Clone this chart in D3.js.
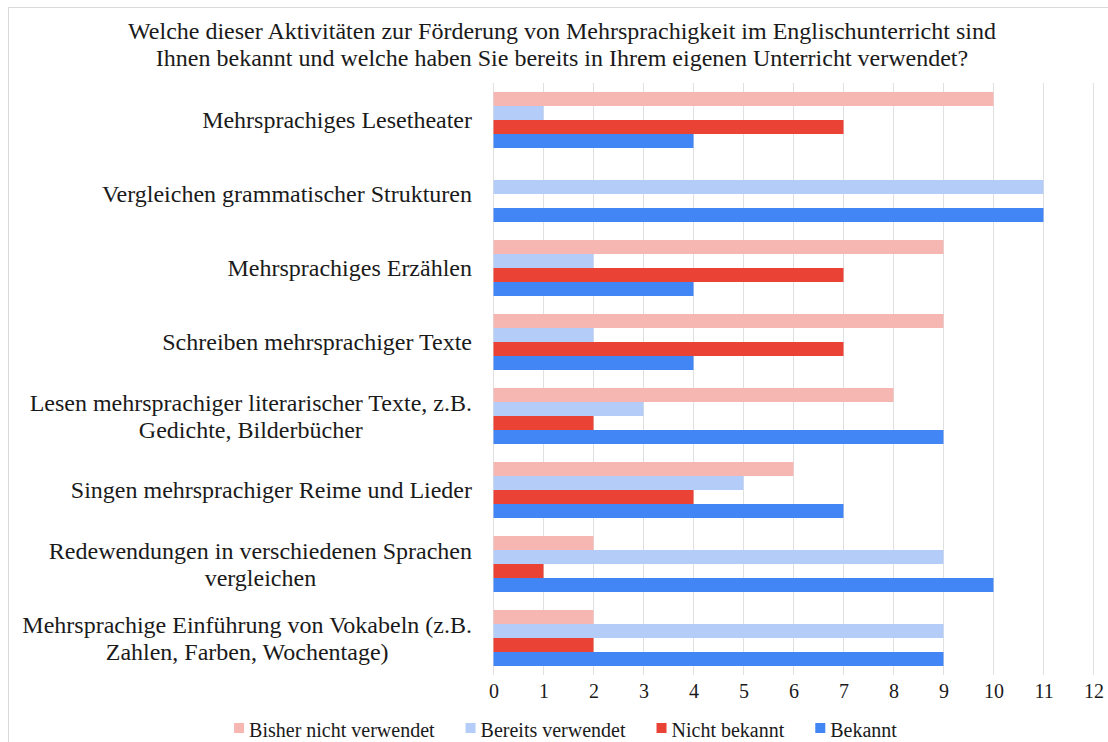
<!DOCTYPE html>
<html>
<head>
<meta charset="utf-8">
<script src="https://cdn.jsdelivr.net/npm/d3@7"></script>
<style>
  body { margin: 0; background: #fff; }
  text { font-family: "Liberation Serif", "Times New Roman", serif; fill: #1a1a1a; }
</style>
</head>
<body>
<div id="chart"></div>
<script>
var width = 1108;
var height = 742;

var titleLines = [
  "Welche dieser Aktivitäten zur Förderung von Mehrsprachigkeit im Englischunterricht sind",
  "Ihnen bekannt und welche haben Sie bereits in Ihrem eigenen Unterricht verwendet?"
];

var categories = [
  "Mehrsprachiges Lesetheater",
  "Vergleichen grammatischer Strukturen",
  "Mehrsprachiges Erzählen",
  "Schreiben mehrsprachiger Texte",
  "Lesen mehrsprachiger literarischer Texte, z.B.\nGedichte, Bilderbücher",
  "Singen mehrsprachiger Reime und Lieder",
  "Redewendungen in verschiedenen Sprachen\nvergleichen",
  "Mehrsprachige Einführung von Vokabeln (z.B.\nZahlen, Farben, Wochentage)"
];

var seriesNames = ["Bisher nicht verwendet", "Bereits verwendet", "Nicht bekannt", "Bekannt"];
var seriesColors = ["#f6b6b2", "#b4cdf8", "#ea4335", "#4285f4"];

var bisherNichtVerwendet = [10, 0, 9, 9, 8, 6, 2, 2];
var bereitsVerwendet = [1, 11, 2, 2, 3, 5, 9, 9];
var nichtBekannt = [7, 0, 7, 7, 2, 4, 1, 2];
var bekannt = [4, 11, 4, 4, 9, 7, 10, 9];

var xTicks = [0, 1, 2, 3, 4, 5, 6, 7, 8, 9, 10, 11, 12];

var seriesValues = [bisherNichtVerwendet, bereitsVerwendet, nichtBekannt, bekannt];

var svg = d3.select("#chart").append("svg")
  .attr("width", width)
  .attr("height", height);

// frame
svg.append("rect")
  .attr("x", 8.5).attr("y", 7.5)
  .attr("width", 1110).attr("height", 760)
  .attr("fill", "none")
  .attr("stroke", "#d9d9d9");

/* Scales */
var xScale = d3.scaleLinear().domain([0, 12]).range([493.5, 1093.5]);
var yScale = d3.scaleBand().domain(categories).range([83, 675]);
var ySub = d3.scaleBand().domain(seriesNames).range([9, yScale.bandwidth() - 9]);

/* Title */
svg.append("g").selectAll("text")
  .data(titleLines)
  .enter().append("text")
  .attr("x", 562)
  .attr("y", (d, i) => 39 + i * 27)
  .attr("text-anchor", "middle")
  .style("font-size", "24px")
  .text(d => d);

/* Gridlines */
svg.append("g").selectAll("line")
  .data(xTicks)
  .enter().append("line")
  .attr("x1", d => xScale(d)).attr("x2", d => xScale(d))
  .attr("y1", 83).attr("y2", 675)
  .attr("stroke", "#e0e0e0")
  .attr("stroke-width", 1);

/* Bars */
var rows = categories.map((c, i) => ({
  cat: c,
  values: seriesNames.map((s, j) => ({ name: s, value: seriesValues[j][i], color: seriesColors[j] }))
}));

var groups = svg.append("g").selectAll(".group")
  .data(rows)
  .enter().append("g")
  .attr("class", "group")
  .attr("transform", d => `translate(0, ${yScale(d.cat)})`);

groups.selectAll("rect")
  .data(d => d.values)
  .enter().append("rect")
  .attr("x", xScale(0))
  .attr("y", d => ySub(d.name))
  .attr("width", d => xScale(d.value) - xScale(0))
  .attr("height", ySub.bandwidth())
  .attr("fill", d => d.color);

/* Category labels, block right-aligned, lines centered */
var labelRight = 472;
categories.forEach(function(c) {
  var lines = c.split("\n");
  var cy = yScale(c) + yScale.bandwidth() / 2;
  var t = svg.append("text")
    .attr("text-anchor", "middle")
    .style("font-size", "24px");
  lines.forEach(function(l, i) {
    t.append("tspan")
      .attr("y", cy + 8 + (i - (lines.length - 1) / 2) * 27)
      .text(l);
  });
  var maxW = 0;
  t.selectAll("tspan").each(function() {
    maxW = Math.max(maxW, this.getComputedTextLength());
  });
  t.selectAll("tspan").attr("x", labelRight - maxW / 2);
});

/* X axis labels */
var xAxis = d3.axisBottom(xScale).tickValues(xTicks).tickSize(0).tickPadding(0);
var gx = svg.append("g")
  .attr("transform", "translate(0, 684)")
  .call(xAxis);
gx.select(".domain").remove();
gx.selectAll("text")
  .attr("dy", "0.71em")
  .style("font-size", "20px")
  .style("font-family", "Liberation Serif, Times New Roman, serif")
  .attr("fill", "#1a1a1a");

/* Legend */
var legend = svg.append("g");
var items = legend.selectAll("g")
  .data(seriesNames)
  .enter().append("g");
items.append("rect")
  .attr("width", 10).attr("height", 10)
  .attr("y", 723)
  .attr("fill", (d, i) => seriesColors[i]);
items.append("text")
  .attr("x", 15)
  .attr("y", 737)
  .style("font-size", "20px")
  .text(d => d);

var pos = 0;
var offsets = [];
items.each(function() {
  offsets.push(pos);
  var w = d3.select(this).select("text").node().getComputedTextLength();
  pos += 15 + w + 31;
});
var totalW = pos - 31;
var startX = 565.5 - totalW / 2;
items.attr("transform", (d, i) => `translate(${startX + offsets[i]}, 0)`);
</script>
</body>
</html>
